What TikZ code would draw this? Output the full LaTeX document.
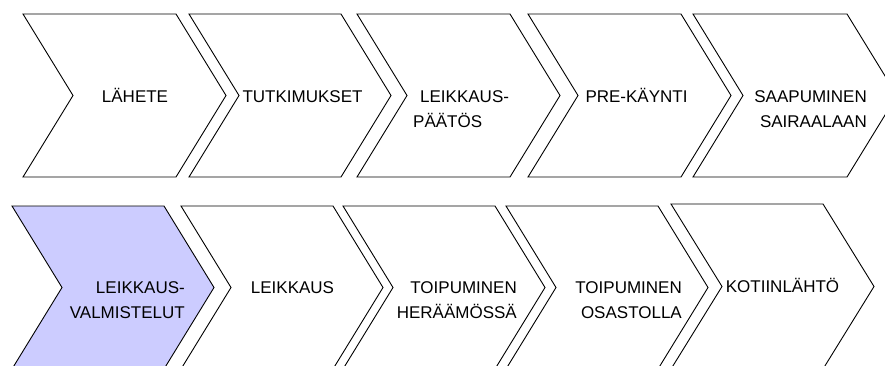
\documentclass[tikz,border=0pt]{standalone}
\usepackage{fontspec}
\setmainfont{Liberation Sans}
\tikzset{
  chevron/.style={draw=black, line width=0.9pt, fill=white, line join=miter},
  current/.style={chevron, fill=blue!20},
  lbl/.style={inner sep=0pt, font=\fontsize{17}{25}\selectfont}
}
\begin{document}
\begin{tikzpicture}[x=1pt, y=-1pt]
        \useasboundingbox (0,0) rectangle (885,365);
        \clip (0,0) rectangle (885,365);

        % Top row
        \draw[chevron] (23,14) -- ++(153,0) -- ++(50,81.5) -- ++(-50,81.5) -- ++(-153,0) -- ++(50,-81.5) -- cycle;
        \draw[chevron] (189,14) -- ++(152,0) -- ++(50,81.5) -- ++(-50,81.5) -- ++(-152,0) -- ++(50,-81.5) -- cycle;
        \draw[chevron] (357,14) -- ++(153,0) -- ++(50,81.5) -- ++(-50,81.5) -- ++(-153,0) -- ++(50,-81.5) -- cycle;
        \draw[chevron] (528,14) -- ++(153,0) -- ++(50,81.5) -- ++(-50,81.5) -- ++(-153,0) -- ++(50,-81.5) -- cycle;
        \draw[chevron] (693,14) -- ++(154,0) -- ++(50,81.5) -- ++(-50,81.5) -- ++(-154,0) -- ++(50,-81.5) -- cycle;

        % Bottom row
        \draw[current] (12,206) -- ++(152,0) -- ++(50,81.5) -- ++(-50,81.5) -- ++(-152,0) -- ++(50,-81.5) -- cycle;
        \draw[chevron] (181,206) -- ++(152,0) -- ++(50,81.5) -- ++(-50,81.5) -- ++(-152,0) -- ++(50,-81.5) -- cycle;
        \draw[chevron] (343,206) -- ++(152,0) -- ++(50,81.5) -- ++(-50,81.5) -- ++(-152,0) -- ++(50,-81.5) -- cycle;
        \draw[chevron] (506,206) -- ++(152,0) -- ++(50,81.5) -- ++(-50,81.5) -- ++(-152,0) -- ++(50,-81.5) -- cycle;
        \draw[chevron] (671,204) -- ++(152,0) -- ++(51,82.5) -- ++(-51,82.5) -- ++(-152,0) -- ++(51,-82.5) -- cycle;

        % Labels
        \node (lahete)      at (135,102)   [lbl, anchor=base] {LÄHETE};
        \node (tutkimukset) at (302.5,102) [lbl, anchor=base] {TUTKIMUKSET};
        \node (paatos)      at (413,102)   [lbl, anchor=base west] {\begin{tabular}[t]{@{}l@{}}\hspace{7pt}LEIKKAUS-\\PÄÄTÖS\end{tabular}};
        \node (prekaynti)   at (636.5,102) [lbl, anchor=base] {PRE-KÄYNTI};
        \node (saapuminen)  at (867,102)   [lbl, anchor=base east] {\begin{tabular}[t]{@{}r@{}}SAAPUMINEN\\SAIRAALAAN\end{tabular}};

        \node (valmistelut) at (185,293)   [lbl, anchor=base east] {\begin{tabular}[t]{@{}r@{}}LEIKKAUS-\\VALMISTELUT\end{tabular}};
        \node (leikkaus)    at (292.5,293) [lbl, anchor=base] {LEIKKAUS};
        \node (heraamo)     at (517,293)   [lbl, anchor=base east] {\begin{tabular}[t]{@{}r@{}}TOIPUMINEN\\HERÄÄMÖSSÄ\end{tabular}};
        \node (osasto)      at (682,293)   [lbl, anchor=base east] {\begin{tabular}[t]{@{}r@{}}TOIPUMINEN\\OSASTOLLA\end{tabular}};
        \node (kotiin)      at (782.5,292) [lbl, anchor=base] {KOTIINLÄHTÖ};
\end{tikzpicture}
\end{document}
